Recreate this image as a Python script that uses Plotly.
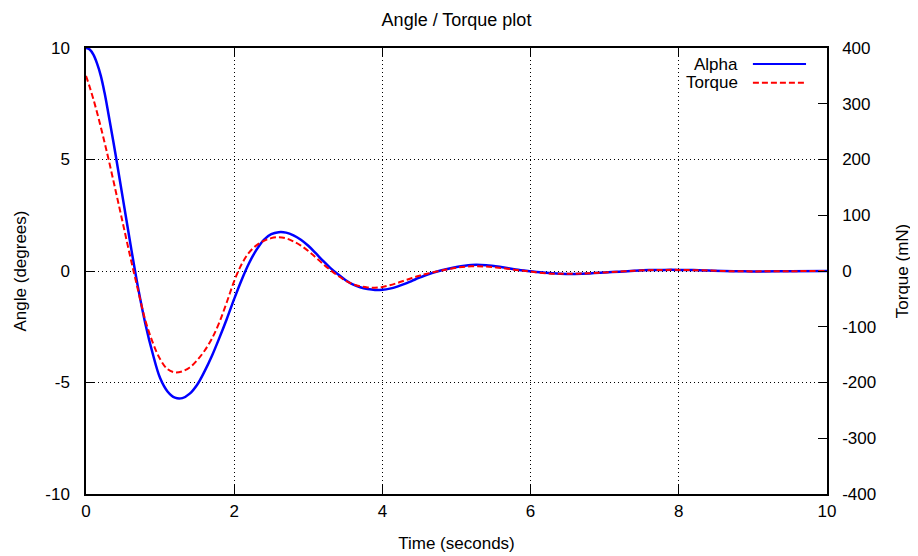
import plotly.graph_objects as go

# Time samples (seconds)
t = [0.0, 0.05, 0.1, 0.15, 0.2, 0.25, 0.3, 0.4, 0.5, 0.6, 0.7, 0.8, 0.9,
     1.0, 1.1, 1.2, 1.3, 1.4, 1.5, 1.6, 1.7, 1.8, 1.9,
     2.0, 2.1, 2.2, 2.3, 2.4, 2.5, 2.6, 2.7, 2.8, 2.9,
     3.0, 3.1, 3.2, 3.3, 3.4, 3.5, 3.6, 3.7, 3.8, 3.9,
     4.0, 4.1, 4.2, 4.3, 4.4, 4.5, 4.6, 4.8, 5.0, 5.2,
     5.4, 5.6, 5.8, 6.0, 6.2, 6.4, 6.6, 6.8, 7.0, 7.2,
     7.4, 7.6, 7.8, 8.0, 8.2, 8.4, 8.6, 8.8, 9.0, 9.5, 10.0]

# Alpha angle (degrees), left axis
alpha = [10.0, 9.93, 9.7, 9.3, 8.75, 8.0, 7.1, 5.2, 3.2, 1.2, -0.7, -2.35, -3.7,
         -4.8, -5.4, -5.68, -5.7, -5.5, -5.1, -4.5, -3.8, -3.0, -2.15,
         -1.25, -0.4, 0.35, 0.95, 1.4, 1.65, 1.74, 1.72, 1.6, 1.4,
         1.13, 0.8, 0.45, 0.13, -0.15, -0.4, -0.6, -0.73, -0.81, -0.85,
         -0.84, -0.79, -0.7, -0.58, -0.44, -0.3, -0.17, 0.03, 0.18, 0.27,
         0.26, 0.18, 0.07, -0.01, -0.08, -0.12, -0.13, -0.11, -0.07, -0.03,
         0.01, 0.04, 0.05, 0.05, 0.04, 0.02, 0.0, -0.01, -0.02, -0.01, 0.0]

# Torque (mN), right axis
torque = [350, 330, 308, 284, 258, 231, 203, 144, 84, 24, -33, -88, -128,
          -158, -176, -182, -180, -173, -160, -143, -121, -92, -56,
          -18, 12, 33, 46, 54, 59, 60.5, 58.5, 53, 45.5,
          36, 24.5, 12.5, 1.5, -8.5, -17, -23.5, -27.5, -29.5, -30,
          -28.5, -25.5, -21.5, -17, -12.5, -8.5, -5, 1, 6, 8.5,
          8, 5.5, 2, -1, -4, -5, -5, -4, -2.5, -1,
          0.5, 1.5, 2, 2, 1.5, 1, 0, -0.5, -0.7, -0.3, 0]

series_names = ["Alpha", "Torque"]

# Tick values / labels (gnuplot uses a plain hyphen for negatives)
x_ticks = [0, 2, 4, 6, 8, 10]
y_ticks = [-10, -5, 0, 5, 10]
y2_ticks = [-400, -300, -200, -100, 0, 100, 200, 300, 400]
x_ticktext = [str(v) for v in x_ticks]
y_ticktext = [str(v) for v in y_ticks]
y2_ticktext = [str(v) for v in y2_ticks]

FONT = "Liberation Sans, Arial, sans-serif"
FS = 17

fig = go.Figure()
fig.add_trace(go.Scatter(x=t, y=alpha, name=series_names[0], mode="lines",
                         line=dict(color="#0000ff", width=2.5, shape="spline", smoothing=1.0),
                         yaxis="y", showlegend=False))
fig.add_trace(go.Scatter(x=t, y=torque, name=series_names[1], mode="lines",
                         line=dict(color="#ff0000", width=2, dash="6px,3px", shape="spline", smoothing=1.0),
                         yaxis="y2", showlegend=False))

axis_common = dict(showline=True, linecolor="black", linewidth=1.5,
                   ticks="inside", ticklen=9, tickcolor="black", tickwidth=1.2,
                   tickfont=dict(family=FONT, size=FS, color="black"),
                   zeroline=False, automargin=False, tickmode="array")

# page body has an 8px margin: figure is 910x548 so the plot area lands on 86..827 x 48..494
fig.update_layout(
    width=910, height=548, autosize=False,
    margin=dict(l=78, r=91, t=40, b=62),
    paper_bgcolor="white", plot_bgcolor="white",
    font=dict(family=FONT, size=FS, color="black"),
    title=dict(text="Angle / Torque plot", x=(456.5 - 8) / 910, xanchor="center",
               y=1 - 12 / 548, yanchor="middle",
               font=dict(family=FONT, size=18, color="black")),
    xaxis=dict(range=[0, 10], tickvals=x_ticks, ticktext=x_ticktext, mirror="ticks",
               showgrid=True, gridcolor="black", griddash="1px,3px", gridwidth=1,
               title=dict(text="Time (seconds)", standoff=17,
                          font=dict(family=FONT, size=FS, color="black")),
               ticklabelstandoff=1,
               **axis_common),
    yaxis=dict(range=[-10, 10], tickvals=y_ticks, ticktext=y_ticktext, mirror=True,
               showgrid=True, gridcolor="black", griddash="1px,3px", gridwidth=1,
               title=dict(text="Angle (degrees)", standoff=14,
                          font=dict(family=FONT, size=FS, color="black")),
               ticklabelstandoff=11,
               **axis_common),
    yaxis2=dict(range=[-400, 400], tickvals=y2_ticks, ticktext=y2_ticktext,
                overlaying="y", side="right", showgrid=False,
                title=dict(text="Torque (mN)", standoff=21,
                           font=dict(family=FONT, size=FS, color="black")),
                ticklabelstandoff=10,
                **axis_common),
)

# gnuplot-style key: white box, right-aligned labels, sample lines on the right
fig.add_shape(type="rect", xref="paper", yref="paper", x0=0.79, x1=0.99, y0=0.899, y1=0.997,
              fillcolor="white", line=dict(width=0), layer="between")
key_rows = [(0.964, "#0000ff", "solid", 2), (0.922, "#ff0000", "6px,3px", 2)]
for name, (yy, col, dsh, w) in zip(series_names, key_rows):
    fig.add_annotation(xref="paper", yref="paper", x=0.8826, y=yy, text=name,
                       showarrow=False, xanchor="right", yanchor="middle",
                       font=dict(family=FONT, size=FS, color="black"))
    fig.add_shape(type="line", xref="paper", yref="paper", x0=0.900, x1=0.9717, y0=yy, y1=yy,
                  line=dict(color=col, width=w, dash=dsh))

fig.write_html("out.html")
